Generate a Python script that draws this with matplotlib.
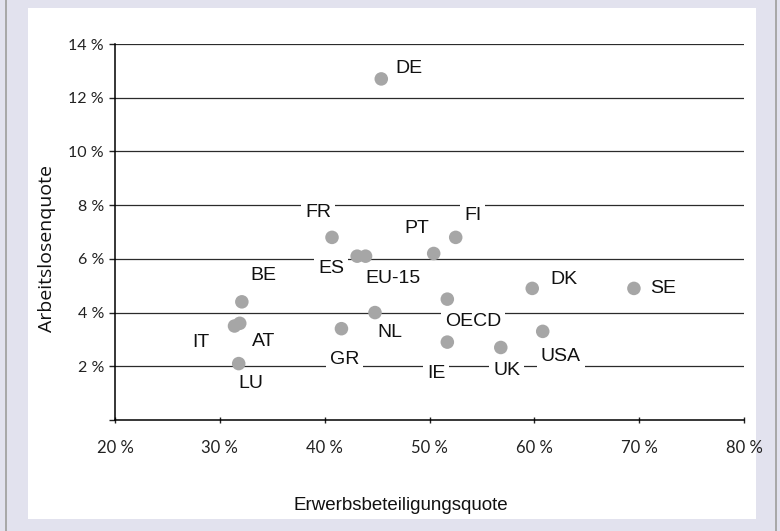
import matplotlib.pyplot as plt
from matplotlib import font_manager
from matplotlib.patches import Rectangle
from matplotlib.ticker import FuncFormatter, MultipleLocator

LAENDER = ['DE', 'FR', 'ES', 'EU-15', 'PT', 'FI', 'BE', 'IT', 'AT', 'LU',
           'GR', 'NL', 'OECD', 'IE', 'UK', 'USA', 'DK', 'SE']

ERWERBSQUOTE = [45.4, 40.7, 43.1, 43.9, 50.4, 52.5, 32.1, 31.4, 31.9, 31.8,
                41.6, 44.8, 51.7, 51.7, 56.8, 60.8, 59.8, 69.5]

ARBEITSLOSENQUOTE = [12.7, 6.8, 6.1, 6.1, 6.2, 6.8, 4.4, 3.5, 3.6, 2.1,
                     3.4, 4.0, 4.5, 2.9, 2.7, 3.3, 4.9, 4.9]

# Versatz der Beschriftung zum Punkt, in Pixeln (x nach rechts, y nach oben)
VERSATZ = {
    'DE': (28, 10), 'FR': (-14, 25), 'ES': (-26, -12), 'EU-15': (27, -22),
    'PT': (-17, 25), 'FI': (17, 22), 'BE': (22, 26), 'IT': (-34, -16),
    'AT': (24, -18), 'LU': (12, -20), 'GR': (3, -31), 'NL': (15, -20),
    'OECD': (26, -22), 'IE': (-11, -31), 'UK': (6, -23), 'USA': (18, -25),
    'DK': (32, 9), 'SE': (29, 0),
}

HINTERGRUND = '#e2e2ee'
PUNKTFARBE = '#a6a6a6'


def schrift(*namen):
    vorhanden = {f.name for f in font_manager.fontManager.ttflist}
    for name in namen:
        if name in vorhanden:
            return name
    return 'DejaVu Sans'


NORMAL = schrift('Liberation Sans', 'Arial')
TICKS = schrift('Lato', 'Open Sans')
ACHSE_Y = schrift('Open Sans', 'Noto Sans')

fig = plt.figure(figsize=(7.8, 5.31), dpi=100)
fig.patch.set_facecolor(HINTERGRUND)

# grauer Rand links/rechts und weisse Zeichenflaeche
for x0 in (5, 775):
    fig.patches.append(Rectangle((x0 / 780, 0), 2 / 780, 1, transform=fig.transFigure,
                                 facecolor='#a8a8a8', edgecolor='none', zorder=-2))
fig.patches.append(Rectangle((28 / 780, 1 - 519 / 531), 728 / 780, 511 / 531,
                             transform=fig.transFigure, facecolor='white',
                             edgecolor='none', zorder=-2))

ax = fig.add_axes([115 / 780, 1 - 420 / 531, 629 / 780, 376 / 531])
ax.set_zorder(1)
ax.set_facecolor('none')

ax.set_xlim(20, 80)
ax.set_ylim(0, 14)

for wert in range(2, 15, 2):
    ax.axhline(wert, color='#2b2b2b', linewidth=0.9, zorder=1)

ax.scatter(ERWERBSQUOTE, ARBEITSLOSENQUOTE, s=95, color=PUNKTFARBE,
           edgecolors='none', zorder=4)

for land, x, y in zip(LAENDER, ERWERBSQUOTE, ARBEITSLOSENQUOTE):
    dx, dy = VERSATZ[land]
    ax.annotate(land, (x, y), xytext=(dx, dy), textcoords='offset pixels',
                ha='center', va='center', fontsize=14, family=NORMAL,
                color='#111111', zorder=3,
                bbox=dict(boxstyle='square,pad=0.2', facecolor='white',
                          edgecolor='none'))

ax.spines['top'].set_visible(False)
ax.spines['right'].set_visible(False)
ax.spines['left'].set_color('black')
ax.spines['bottom'].set_color('black')
ax.spines['left'].set_linewidth(1.1)
ax.spines['bottom'].set_linewidth(1.1)

ax.xaxis.set_major_locator(MultipleLocator(10))
ax.yaxis.set_major_locator(MultipleLocator(2))
ax.xaxis.set_major_formatter(FuncFormatter(lambda v, _: f'{v:.0f} %'))
ax.yaxis.set_major_formatter(FuncFormatter(lambda v, _: '' if v == 0 else f'{v:.0f} %'))

ax.tick_params(axis='y', direction='out', length=4, width=1, pad=4,
               labelsize=11.5, colors='#222222')
ax.tick_params(axis='x', direction='inout', length=5, width=1, pad=12,
               labelsize=12, colors='#222222')
for t in ax.get_yticklabels() + ax.get_xticklabels():
    t.set_family(TICKS)

ax.set_ylabel('Arbeitslosenquote', fontsize=14, family=ACHSE_Y, color='#111111')
ax.yaxis.set_label_coords(-0.094, 0.457)
ax.set_xlabel('Erwerbsbeteiligungsquote', fontsize=13.5, family=NORMAL, color='#111111')
ax.xaxis.set_label_coords(0.455, -0.205)

fig.savefig('out.png', dpi=100, facecolor=fig.get_facecolor())
